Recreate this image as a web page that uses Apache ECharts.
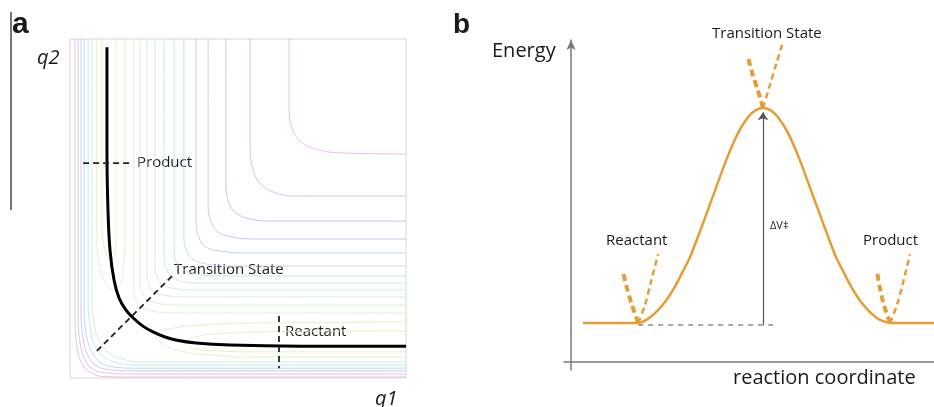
<!DOCTYPE html>
<html>
<head>
<meta charset="utf-8">
<script src="https://cdn.jsdelivr.net/npm/echarts@6/dist/echarts.min.js"></script>
<style>
html, body { margin: 0; padding: 0; background: #fff; }
#chart { width: 934px; height: 407px; }
</style>
</head>
<body>
<div id="chart"></div>
<script>
// panel a: contour map (q1, q2 on 0..100)
const outerContours = [
  [[65.2,100],[65.2,79.1],[66.1,73.7],[68.5,69.9],[72.9,67.6],[80.4,66.4],[100,66.1]],
  [[53.6,100],[53.6,67.3],[54.5,61.4],[56.5,57.5],[60.4,54.9],[67.0,53.7],[100,53.7]],
  [[46.4,100],[46.4,56.9],[47.3,51.6],[49.4,48.7],[53.6,46.9],[61.0,46.3],[100,46.3]],
  [[41.1,100],[41.1,51.0],[42.0,46.0],[44.0,43.1],[48.2,41.6],[55.1,41.0],[100,41.0]],
  [[37.5,100],[37.5,46.0],[38.4,41.3],[40.5,38.6],[44.6,37.5],[50.6,36.9],[100,36.9]],
  [[33.9,100],[33.9,41.3],[34.8,37.2],[36.9,34.8],[40.8,33.6],[46.4,33.0],[100,33.0]],
  [[31.0,100],[31.0,37.8],[31.8,33.9],[33.9,31.9],[37.5,30.7],[43.2,30.1],[100,30.1]],
  [[28.0,100],[28.0,35.4],[28.9,31.6],[31.0,29.5],[34.5,28.3],[40.2,28.0],[100,28.0]],
  [[25.3,100],[25.3,33.0],[26.2,29.2],[28.3,27.1],[31.8,26.3],[37.5,26.0],[100,26.0]],
  [[22.9,100],[22.9,30.7],[23.8,26.8],[25.9,25.1],[29.5,24.2],[35.1,23.9],[100,23.9]],
  [[20.8,100],[20.8,28.3],[21.7,24.8],[23.8,22.7],[27.4,21.8],[32.7,21.5],[100,21.5]],
  [[19.0,100],[19.0,26.0],[19.9,22.4],[22.0,20.6],[25.6,19.5],[31.0,19.2],[100,19.2]]
];
const valleyContours = [
  [[100,16.5],[53.6,16.2],[38.7,15.6],[30.4,14.7],[25.6,13.0],[26.8,10.6],[32.7,8.0],[41.7,6.8],[53.6,6.2],[100,6.2]],
  [[100,13.9],[56.5,13.6],[43.2,13.0],[37.2,12.1],[34.5,10.6],[36.3,8.8],[43.2,8.0],[56.5,7.7],[100,7.7]],
  [[8.0,100],[8.0,40.7],[8.9,32.4],[11.0,27.4],[13.4,26.0],[15.2,28.3],[16.1,34.2],[16.4,43.7],[16.4,100]],
  [[9.5,100],[9.5,45.1],[10.1,39.2],[11.3,35.4],[12.5,34.8],[13.4,37.2],[13.7,45.1],[13.7,100]]
];
const wallContours = [
  [[6.5,100],[6.5,24.5],[7.1,16.5],[8.6,11.2],[11.3,7.7],[15.5,5.6],[22.3,4.7],[100,4.7]],
  [[5.4,100],[5.4,23.0],[6.0,14.7],[7.4,9.4],[10.1,6.2],[14.3,4.4],[20.8,3.8],[100,3.8]],
  [[4.2,100],[4.2,21.5],[4.8,13.3],[6.3,8.0],[8.9,4.7],[13.1,3.2],[19.6,2.9],[100,2.9]],
  [[3.3,100],[3.3,20.1],[3.9,11.8],[5.4,6.5],[8.0,3.5],[12.2,2.4],[18.5,2.1],[100,2.1]],
  [[2.4,100],[2.4,18.6],[3.0,10.3],[4.5,5.3],[7.1,2.4],[11.3,1.5],[17.3,1.2],[100,1.2]],
  [[1.5,100],[1.5,17.1],[2.1,9.1],[3.6,4.1],[6.3,1.5],[10.4,0.4],[16.1,0.3],[100,0.3]]
];
const pathA = [[11.0,97.6],[11.0,67.3],[11.3,49.6],[11.9,37.8],[13.1,28.9],[14.6,23.6],[16.4,20.4],[18.5,18.0],
  [21.7,15.3],[24.7,13.6],[28.3,12.1],[31.5,11.2],[37.5,10.3],[47.6,9.7],[68.5,9.4],[100,9.4]];
const productCut = [[3.9,63.4],[17.9,63.4]];
const tsCut = [[8.0,8.0],[30.4,30.1]];
const reactantCut = [[62.2,18.3],[62.2,2.9]];

// panel b: energy profile
const energyPath = [[3.3,12.1],[18.5,12.1],[21.2,13.4],[23.7,15.8],[25.9,18.6],[28.1,22.4],[30.3,27.0],[32.8,32.6],
  [36.4,43.2],[39.7,53.4],[43.0,63.4],[46.0,71.1],[48.8,76.1],[51.0,78.3],[52.9,78.9],[54.8,78.3],[57.0,76.1],
  [59.8,71.1],[62.8,63.4],[66.1,53.4],[69.4,43.2],[73.0,32.6],[75.5,27.0],[77.7,22.4],[79.9,18.6],[82.1,15.8],
  [84.6,13.4],[87.9,12.1],[100,12.1]];
const wellLeft = [
  [[18.5,12.1],[16.8,17.7],[15.4,23.0],[14.3,28.0]],
  [[52.9,78.9],[51.5,84.2],[50.1,89.1],[48.8,94.4]],
  [[87.9,12.1],[86.2,17.7],[85.1,23.0],[84.3,28.0]]
];
const wellRight = [
  [[18.5,12.1],[20.4,17.7],[22.0,24.8],[24.0,33.5]],
  [[52.9,78.9],[54.8,86.0],[56.7,93.2],[58.4,99.4]],
  [[87.9,12.1],[89.8,17.7],[91.5,24.8],[93.4,33.5]]
];
const baseLine = [[18.5,11.5],[57.0,11.5]];
const barrier = [[52.9,11.5],[52.9,77.6]];

const outerColors = ['#eab4e4','#cdb5ee','#bcb9f0','#b4c2f0','#b2ccef','#b0d8ee','#b2e2ea','#b8eae2','#bfeed9','#c8efd0','#d2f0c6','#dcf0bf'];
const valleyColors = ['#dfefbb','#e3efba','#dcefc0','#e3efba'];
const wallColors = ['#c6eed6','#b6e6ea','#b4d2f0','#c2c0f0','#d8b8ee','#ecb2e2'];

const chart = echarts.init(document.getElementById('chart'));
const orange = '#e69d35';
const series = [];

const contour = (pts, color) => ({
  type: 'line', xAxisIndex: 0, yAxisIndex: 0, data: pts, showSymbol: false, silent: true,
  smooth: 0.4, lineStyle: { color: color, width: 1, opacity: 0.85 }, z: 1
});
outerContours.forEach((c, i) => series.push(contour(c, outerColors[i])));
valleyContours.forEach((c, i) => series.push(contour(c, valleyColors[i])));
wallContours.forEach((c, i) => series.push(contour(c, wallColors[i])));

series.push({
  type: 'line', xAxisIndex: 0, yAxisIndex: 0, data: pathA, showSymbol: false, smooth: 0.3,
  lineStyle: { color: '#000', width: 3 }, z: 5
});
[productCut, tsCut, reactantCut].forEach(c => series.push({
  type: 'line', xAxisIndex: 0, yAxisIndex: 0, data: c, showSymbol: false,
  lineStyle: { color: '#222', width: 1.8, type: [6, 4] }, z: 6
}));

series.push({
  type: 'line', xAxisIndex: 1, yAxisIndex: 1, data: energyPath, showSymbol: false, smooth: 0.2,
  lineStyle: { color: orange, width: 2.5 }, z: 5
});
wellLeft.forEach(c => series.push({
  type: 'line', xAxisIndex: 1, yAxisIndex: 1, data: c, showSymbol: false, smooth: 0.3,
  lineStyle: { color: orange, width: 4, type: [7, 4] }, z: 4
}));
wellRight.forEach(c => series.push({
  type: 'line', xAxisIndex: 1, yAxisIndex: 1, data: c, showSymbol: false, smooth: 0.3,
  lineStyle: { color: orange, width: 2.5, type: [6, 4] }, z: 4
}));
series.push({
  type: 'line', xAxisIndex: 1, yAxisIndex: 1, data: baseLine, showSymbol: false,
  lineStyle: { color: '#8a8a8a', width: 1.3, type: [5, 5] }, z: 3
});
series.push({
  type: 'lines', coordinateSystem: 'cartesian2d', xAxisIndex: 1, yAxisIndex: 1,
  data: [{ coords: barrier }], symbol: ['none', 'arrow'], symbolSize: 8,
  lineStyle: { color: '#555', width: 1.2, opacity: 1 }, z: 6
});

const txt = (x, y, s, font) => ({
  type: 'text', x: x, y: y, silent: true,
  style: { text: s, font: font, fill: '#1a1a1a', verticalAlign: 'middle', align: 'left' }
});
const lab = '15px "Open Sans"';

const hiddenAxis = { show: false };
chart.setOption({
  animation: false,
  backgroundColor: '#fff',
  grid: [
    { left: 70, top: 39, width: 336, height: 339, show: true, borderColor: '#d6d6d6', borderWidth: 1 },
    { left: 564, top: 40, width: 370, height: 330 }
  ],
  xAxis: [
    Object.assign({ type: 'value', gridIndex: 0, min: 0, max: 100 }, hiddenAxis),
    { type: 'value', gridIndex: 1, min: -1.93, max: 100, splitLine: { show: false },
      axisTick: { show: false }, axisLabel: { show: false },
      axisLine: { show: true, onZero: true, lineStyle: { color: '#777', width: 1.5 } } }
  ],
  yAxis: [
    Object.assign({ type: 'value', gridIndex: 0, min: 0, max: 100 }, hiddenAxis),
    { type: 'value', gridIndex: 1, min: -2.48, max: 100, splitLine: { show: false },
      axisTick: { show: false }, axisLabel: { show: false },
      axisLine: { show: true, onZero: true, symbol: ['none', 'arrow'], symbolSize: [7, 10],
        lineStyle: { color: '#777', width: 1.5 } } }
  ],
  graphic: [
    { type: 'line', shape: { x1: 11, y1: 12, x2: 11, y2: 210 }, style: { stroke: '#777', lineWidth: 2 }, silent: true },
    txt(12, 24.5, 'a', 'bold 30px "Liberation Sans"'),
    txt(453, 25, 'b', 'bold 28px "Liberation Sans"'),
    txt(37, 58, 'q2', 'italic 20px "Open Sans"'),
    txt(375, 399, 'q1', 'italic 20px "Open Sans"'),
    txt(137, 163, 'Product', lab),
    txt(174, 270, 'Transition State', lab),
    txt(285, 332, 'Reactant', lab),
    txt(492, 51, 'Energy', '20px "Open Sans"'),
    txt(733, 378, 'reaction coordinate', '20px "Open Sans"'),
    txt(712, 34, 'Transition State', lab),
    txt(606, 241, 'Reactant', lab),
    txt(863, 241, 'Product', lab),
    txt(770, 226, 'ΔV‡', '11px "Open Sans"')
  ],
  series: series
});
</script>
</body>
</html>
